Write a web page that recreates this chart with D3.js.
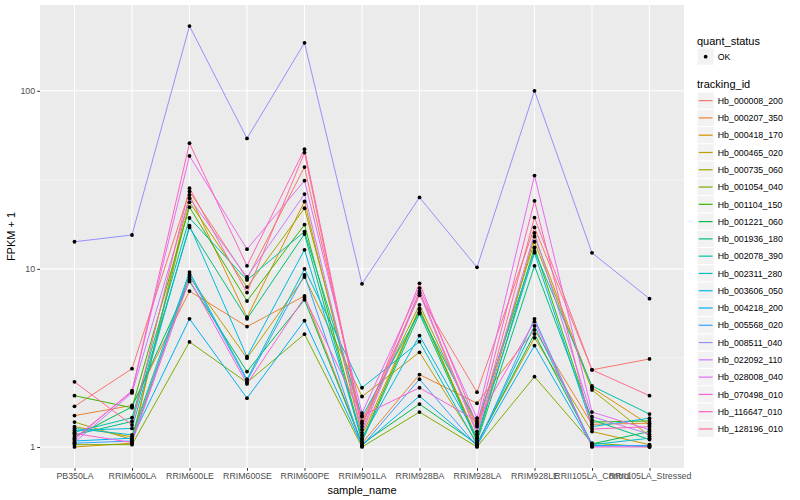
<!DOCTYPE html>
<html>
<head>
<meta charset="utf-8">
<script src="https://cdn.jsdelivr.net/npm/d3@7"></script>
<style>
  body { margin: 0; background: #fff; }
  text { font-family: "Liberation Sans", Arial, sans-serif; }
</style>
</head>
<body>
<div id="chart"></div>
<script>
// samples on the x axis
var sampleNames = ['PB350LA', 'RRIM600LA', 'RRIM600LE', 'RRIM600SE', 'RRIM600PE', 'RRIM901LA',
   'RRIM928BA', 'RRIM928LA', 'RRIM928LE', 'RRII105LA_Control', 'RRII105LA_Stressed'];

var trackingIds = ['Hb_000008_200', 'Hb_000207_350', 'Hb_000418_170', 'Hb_000465_020', 'Hb_000735_060',
   'Hb_001054_040', 'Hb_001104_150', 'Hb_001221_060', 'Hb_001936_180', 'Hb_002078_390',
   'Hb_002311_280', 'Hb_003606_050', 'Hb_004218_200', 'Hb_005568_020', 'Hb_008511_040',
   'Hb_022092_110', 'Hb_028008_040', 'Hb_070498_010', 'Hb_116647_010', 'Hb_128196_010'];

// ggplot hue palette, one per tracking id
var trackingColors = ['#F8766D', '#EA8331', '#D89000', '#C09B00', '#A3A500', '#7CAE00', '#39B600',
   '#00BB4E', '#00BF7D', '#00C1A3', '#00BFC4', '#00BAE0', '#00B0F6', '#35A2FF', '#9590FF',
   '#C77CFF', '#E76BF3', '#FA62DB', '#FF62BC', '#FF6C91'];

var quantStatus = ['OK'];

// FPKM + 1, one row per tracking id, in sampleNames order
var fpkm = [
   [1.69, 2.75, 27.2, 8.8, 37.3, 1.39, 7.1, 2.03, 17.1, 2.71, 3.12],
   [1.50, 1.71, 7.5, 4.74, 7.05, 1.05, 2.55, 1.76, 4.54, 1.34, 1.36],
   [1.00, 1.05, 26.0, 5.35, 23.9, 1.16, 6.0, 1.12, 15.2, 2.15, 1.33],
   [1.30, 1.14, 9.0, 3.15, 9.0, 1.92, 3.4, 1.05, 4.1, 1.22, 1.03],
   [1.38, 1.10, 23.7, 7.9, 21.9, 1.35, 6.28, 1.30, 14.2, 2.09, 1.15],
   [1.03, 1.03, 3.89, 2.30, 4.3, 1.00, 1.57, 1.00, 2.48, 1.05, 1.00],
   [1.94, 1.66, 22.2, 6.6, 17.7, 1.10, 5.9, 1.09, 13.2, 1.38, 1.40],
   [1.14, 1.68, 8.5, 2.65, 6.7, 1.04, 1.74, 1.04, 4.31, 1.04, 1.22],
   [1.17, 1.39, 17.1, 5.24, 15.7, 1.07, 5.6, 1.07, 10.4, 1.42, 1.10],
   [1.21, 1.46, 19.3, 8.67, 16.2, 1.48, 5.7, 1.36, 12.6, 2.2, 1.53],
   [1.27, 1.17, 9.6, 2.4, 10.0, 2.15, 3.9, 1.03, 4.78, 1.03, 1.12],
   [1.24, 1.27, 17.5, 3.21, 12.8, 1.12, 4.22, 1.14, 12.3, 1.30, 1.45],
   [1.08, 1.12, 5.24, 1.88, 5.12, 1.02, 1.93, 1.02, 3.71, 1.02, 1.01],
   [1.05, 1.08, 9.3, 2.35, 9.25, 1.01, 2.4, 1.01, 5.24, 1.01, 1.02],
   [14.2, 15.5, 231, 54, 186, 8.24, 25.2, 10.2, 100, 12.3, 6.8],
   [1.06, 2.01, 24.9, 9.0, 26.3, 1.20, 7.3, 1.18, 15.9, 1.48, 1.18],
   [1.10, 2.07, 43.1, 12.9, 31.3, 1.55, 7.8, 1.45, 33.4, 1.57, 1.25],
   [1.19, 1.06, 8.7, 2.26, 6.9, 1.50, 2.15, 1.40, 5.06, 1.00, 1.00],
   [1.12, 2.04, 50.8, 10.4, 47, 1.30, 8.3, 1.33, 24.1, 1.26, 1.30],
   [2.32, 1.33, 28.4, 7.36, 45, 1.25, 7.5, 1.22, 19.4, 2.71, 1.94]
];

var yTicks = [1, 10, 100];
var yMinor = [Math.sqrt(10), Math.sqrt(1000)];

var width = 800, height = 500;
var panel = {left: 40, right: 684, top: 5, bottom: 468};
var axisTextColor = '#4D4D4D';

var svg = d3.select('#chart').append('svg')
   .attr('width', width)
   .attr('height', height);

svg.append('rect').attr('width', width).attr('height', height).attr('fill', '#fff');

//scales
var x = d3.scalePoint()
   .domain(sampleNames)
   .range([panel.left, panel.right])
   .padding(0.6);

//log range of the data, widened 5% each side like ggplot
var allValues = d3.merge(fpkm);
var logExt = d3.extent(allValues).map(Math.log10);
var pad = (logExt[1] - logExt[0]) * 0.05;
var y = d3.scaleLog()
   .domain([Math.pow(10, logExt[0] - pad), Math.pow(10, logExt[1] + pad)])
   .range([panel.bottom, panel.top]);

//panel background and grid
svg.append('rect')
   .attr('x', panel.left).attr('y', panel.top)
   .attr('width', panel.right - panel.left)
   .attr('height', panel.bottom - panel.top)
   .attr('fill', '#EBEBEB');

var grid = svg.append('g');
grid.selectAll('.minor').data(yMinor).enter().append('line')
   .attr('x1', panel.left).attr('x2', panel.right)
   .attr('y1', function (d) { return y(d); })
   .attr('y2', function (d) { return y(d); })
   .attr('stroke', '#fff').attr('stroke-width', 0.55);
grid.selectAll('.majorY').data(yTicks).enter().append('line')
   .attr('x1', panel.left).attr('x2', panel.right)
   .attr('y1', function (d) { return y(d); })
   .attr('y2', function (d) { return y(d); })
   .attr('stroke', '#fff').attr('stroke-width', 1.1);
grid.selectAll('.majorX').data(sampleNames).enter().append('line')
   .attr('y1', panel.top).attr('y2', panel.bottom)
   .attr('x1', function (d) { return x(d); })
   .attr('x2', function (d) { return x(d); })
   .attr('stroke', '#fff').attr('stroke-width', 1.1);

//lines, one per tracking id
var line = d3.line()
   .x(function (d, i) { return x(sampleNames[i]); })
   .y(function (d) { return y(d); });

svg.append('g').selectAll('path')
   .data(fpkm)
   .enter()
   .append('path')
   .attr('d', line)
   .attr('fill', 'none')
   .attr('stroke', function (d, i) { return trackingColors[i]; })
   .attr('stroke-width', 1);

//points
var pts = [];
fpkm.forEach(function (row) {
   row.forEach(function (v, i) { pts.push({sample: sampleNames[i], value: v}); });
});
svg.append('g').selectAll('circle')
   .data(pts)
   .enter()
   .append('circle')
   .attr('cx', function (d) { return x(d.sample); })
   .attr('cy', function (d) { return y(d.value); })
   .attr('r', 1.9)
   .attr('fill', '#000');

//axes
var xAxis = svg.append('g')
   .attr('transform', 'translate(0,' + panel.bottom + ')')
   .call(d3.axisBottom(x).tickSize(2.75).tickPadding(2.2));
var yAxis = svg.append('g')
   .attr('transform', 'translate(' + panel.left + ',0)')
   .call(d3.axisLeft(y).tickValues(yTicks).tickFormat(d3.format('d')).tickSize(2.75).tickPadding(2.2));

[xAxis, yAxis].forEach(function (ax) {
   ax.select('.domain').remove();
   ax.selectAll('.tick line').attr('stroke', '#333333').attr('stroke-width', 1);
   ax.selectAll('.tick text')
      .attr('fill', axisTextColor)
      .style('font-size', '8.8px')
      .style('font-family', '"Liberation Sans", Arial, sans-serif');
});

svg.append('text')
   .attr('x', (panel.left + panel.right) / 2)
   .attr('y', 494)
   .attr('text-anchor', 'middle')
   .style('font-size', '11px')
   .text('sample_name');

svg.append('text')
   .attr('transform', 'translate(15,' + ((panel.top + panel.bottom) / 2) + ') rotate(-90)')
   .attr('text-anchor', 'middle')
   .style('font-size', '11px')
   .text('FPKM + 1');

//legends
var legX = 697, keySize = 17.28;
var legend = svg.append('g');

legend.append('text')
   .attr('x', legX).attr('y', 44.5)
   .style('font-size', '11px')
   .text('quant_status');

var qs = legend.selectAll('.qs').data(quantStatus).enter().append('g')
   .attr('transform', function (d, i) { return 'translate(' + legX + ',' + (48 + i * keySize) + ')'; });
qs.append('rect')
   .attr('width', keySize).attr('height', keySize)
   .attr('fill', '#F2F2F2').attr('stroke', '#fff');
qs.append('circle')
   .attr('cx', keySize / 2).attr('cy', keySize / 2).attr('r', 1.9).attr('fill', '#000');
qs.append('text')
   .attr('x', keySize + 3.5).attr('y', keySize / 2 + 3.2)
   .style('font-size', '8.8px')
   .text(function (d) { return d; });

legend.append('text')
   .attr('x', legX).attr('y', 88)
   .style('font-size', '11px')
   .text('tracking_id');

var tk = legend.selectAll('.tk').data(trackingIds).enter().append('g')
   .attr('transform', function (d, i) { return 'translate(' + legX + ',' + (92 + i * keySize) + ')'; });
tk.append('rect')
   .attr('width', keySize).attr('height', keySize)
   .attr('fill', '#F2F2F2').attr('stroke', '#fff');
tk.append('line')
   .attr('x1', 1.7).attr('x2', keySize - 1.7)
   .attr('y1', keySize / 2).attr('y2', keySize / 2)
   .attr('stroke', function (d, i) { return trackingColors[i]; })
   .attr('stroke-width', 1.2);
tk.append('text')
   .attr('x', keySize + 3.5).attr('y', keySize / 2 + 3.2)
   .style('font-size', '8.8px')
   .text(function (d) { return d; });
</script>
</body>
</html>
